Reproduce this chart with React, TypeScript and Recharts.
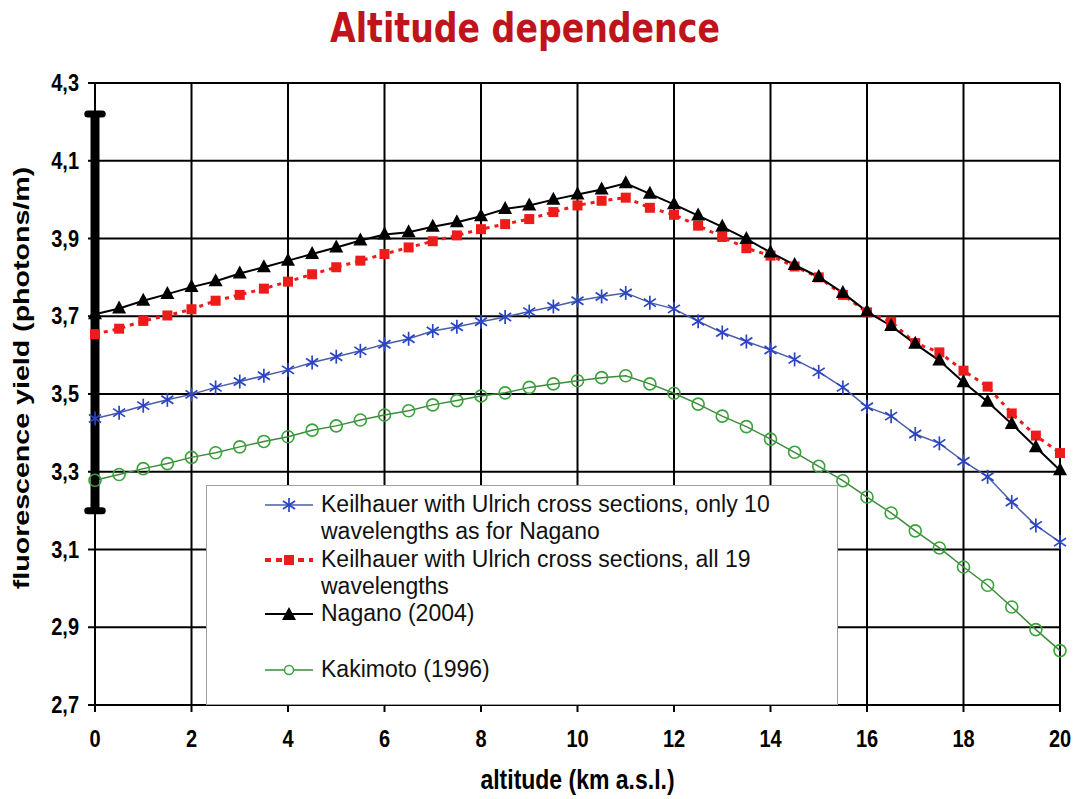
import {
  LineChart,
  Line,
  XAxis,
  YAxis,
  CartesianGrid,
  ReferenceLine,
  Legend,
  Label,
} from "recharts";

const altitude = [
  0, 0.5, 1, 1.5, 2, 2.5, 3, 3.5, 4, 4.5, 5, 5.5, 6, 6.5, 7, 7.5, 8, 8.5, 9, 9.5, 10,
  10.5, 11, 11.5, 12, 12.5, 13, 13.5, 14, 14.5, 15, 15.5, 16, 16.5, 17, 17.5, 18, 18.5,
  19, 19.5, 20,
];

// Keilhauer with Ulrich cross sections, only 10 wavelengths
const keilhauer10 = [
  3.437, 3.452, 3.47, 3.485, 3.499, 3.517, 3.532, 3.547, 3.562, 3.581, 3.596, 3.611, 3.628,
  3.642, 3.662, 3.673, 3.686, 3.698, 3.712, 3.725, 3.74, 3.751, 3.76, 3.735, 3.719, 3.687,
  3.658, 3.635, 3.613, 3.589, 3.557, 3.517, 3.467, 3.443, 3.397, 3.373, 3.327, 3.287, 3.222,
  3.162, 3.119,
];

// Keilhauer with Ulrich cross sections, all 19 wavelengths
const keilhauer19 = [
  3.654, 3.668, 3.688, 3.702, 3.718, 3.74, 3.755, 3.771, 3.789, 3.808, 3.826, 3.843, 3.86,
  3.877, 3.893, 3.908, 3.924, 3.937, 3.95, 3.968, 3.985, 3.997, 4.005, 3.979, 3.961, 3.933,
  3.904, 3.875, 3.856, 3.828, 3.8, 3.755, 3.71, 3.686, 3.631, 3.607, 3.56, 3.519, 3.45,
  3.393, 3.348,
];

const nagano = [
  3.705, 3.72, 3.74, 3.757, 3.775, 3.79, 3.81, 3.826, 3.843, 3.86, 3.877, 3.895, 3.91,
  3.916, 3.93, 3.942, 3.957, 3.976, 3.985, 4.0, 4.013, 4.026, 4.042, 4.015, 3.988, 3.959,
  3.93, 3.899, 3.864, 3.832, 3.801, 3.76, 3.712, 3.675, 3.629, 3.586, 3.53, 3.48, 3.423,
  3.363, 3.304,
];

const kakimoto = [
  3.278, 3.293, 3.308, 3.321, 3.337, 3.349, 3.364, 3.378, 3.39, 3.407, 3.418, 3.433, 3.446,
  3.457, 3.472, 3.483, 3.495, 3.503, 3.517, 3.526, 3.534, 3.542, 3.547, 3.526, 3.502, 3.474,
  3.443, 3.416, 3.384, 3.35, 3.314, 3.277, 3.235, 3.194, 3.148, 3.104, 3.055, 3.008, 2.952,
  2.894, 2.84,
];

const xTicks = [0, 2, 4, 6, 8, 10, 12, 14, 16, 18, 20];
const yTicks = [2.7, 2.9, 3.1, 3.3, 3.5, 3.7, 3.9, 4.1, 4.3];

// systematic uncertainty bar drawn at altitude 0
const errorBarLow = 3.2;
const errorBarHigh = 4.22;

const data = altitude.map((a, i) => ({
  altitude: a,
  k10: keilhauer10[i],
  k19: keilhauer19[i],
  nagano: nagano[i],
  kakimoto: kakimoto[i],
}));

const BLUE = "#2a44c4";
const BLUE_LINE = "#4a5ea8";
const RED = "#ee1b1b";
const GREEN = "#3aa23a";
const GREEN_LINE = "#3d8a3d";
const FONT = "'Liberation Sans', Arial, sans-serif";
// the slide is stretched vertically, so text is drawn a bit taller than wide
const STRETCH = 1.22;

const StarDot = ({ cx, cy }: any) => {
  if (cx == null || cy == null) return null;
  return (
    <g stroke={BLUE} strokeWidth={1.7}>
      <line x1={cx} y1={cy - 7} x2={cx} y2={cy + 7} />
      <line x1={cx - 6} y1={cy - 4} x2={cx + 6} y2={cy + 4} />
      <line x1={cx - 6} y1={cy + 4} x2={cx + 6} y2={cy - 4} />
    </g>
  );
};

const SquareDot = ({ cx, cy }: any) => {
  if (cx == null || cy == null) return null;
  return <rect x={cx - 5} y={cy - 5} width={10} height={10} fill={RED} />;
};

const TriangleDot = ({ cx, cy }: any) => {
  if (cx == null || cy == null) return null;
  return (
    <polygon
      points={`${cx},${cy - 8} ${cx - 7},${cy + 5} ${cx + 7},${cy + 5}`}
      fill="#000"
    />
  );
};

const CircleDot = ({ cx, cy }: any) => {
  if (cx == null || cy == null) return null;
  return <circle cx={cx} cy={cy} r={6} fill="none" stroke={GREEN} strokeWidth={1.6} />;
};

const XTick = ({ x, y, payload }: any) => (
  <text
    transform={`translate(${x},${y + 8}) scale(1,${STRETCH})`}
    textAnchor="middle"
    dominantBaseline="central"
    fontFamily={FONT}
    fontWeight={700}
    fontSize={20}
    fill="#000"
  >
    {payload.value}
  </text>
);

const YTick = ({ x, y, payload }: any) => (
  <text
    transform={`translate(${x},${y}) scale(1,${STRETCH})`}
    textAnchor="end"
    dominantBaseline="central"
    fontFamily={FONT}
    fontWeight={700}
    fontSize={20}
    fill="#000"
  >
    {Number(payload.value).toFixed(1).replace(".", ",")}
  </text>
);

const XTitle = ({ viewBox }: any) => {
  const cx = viewBox.x + viewBox.width / 2;
  return (
    <text
      transform={`translate(${cx},${viewBox.y + 74}) scale(1,${STRETCH})`}
      textAnchor="middle"
      dominantBaseline="central"
      fontFamily={FONT}
      fontWeight={700}
      fontSize={23}
      fill="#000"
    >
      altitude (km a.s.l.)
    </text>
  );
};

const YTitle = ({ viewBox }: any) => {
  const cy = viewBox.y + viewBox.height / 2 - 16;
  return (
    <text
      transform={`translate(${viewBox.x + 21},${cy}) rotate(-90) scale(${STRETCH + 0.08},1)`}
      textAnchor="middle"
      dominantBaseline="central"
      fontFamily={FONT}
      fontWeight={700}
      fontSize={22}
      fill="#000"
    >
      fluorescence yield (photons/m)
    </text>
  );
};

const legendEntries = [
  {
    kind: "star",
    lines: ["Keilhauer with Ulrich cross sections, only 10", "wavelengths as for Nagano"],
    top: 5,
  },
  {
    kind: "square",
    lines: ["Keilhauer with Ulrich cross sections, all 19", "wavelengths"],
    top: 60,
  },
  { kind: "triangle", lines: ["Nagano (2004)"], top: 114 },
  { kind: "circle", lines: ["Kakimoto (1996)"], top: 170 },
];

const Swatch = ({ kind }: { kind: string }) => {
  const w = 48;
  const c = 24;
  const y = 13;
  if (kind === "star")
    return (
      <svg width={w} height={26}>
        <line x1={0} y1={y} x2={w} y2={y} stroke={BLUE_LINE} strokeWidth={1.5} />
        <StarDot cx={c} cy={y} />
      </svg>
    );
  if (kind === "square")
    return (
      <svg width={w} height={26}>
        <line x1={0} y1={y} x2={w} y2={y} stroke={RED} strokeWidth={4} strokeDasharray="6 5" />
        <SquareDot cx={c} cy={y} />
      </svg>
    );
  if (kind === "triangle")
    return (
      <svg width={w} height={26}>
        <line x1={0} y1={y} x2={w} y2={y} stroke="#000" strokeWidth={2} />
        <TriangleDot cx={c} cy={y + 1} />
      </svg>
    );
  return (
    <svg width={w} height={26}>
      <line x1={0} y1={y} x2={w} y2={y} stroke={GREEN_LINE} strokeWidth={1.5} />
      <circle cx={c} cy={y} r={4.5} fill="#fff" stroke={GREEN} strokeWidth={1.5} />
    </svg>
  );
};

const LegendBox = () => (
  <div
    style={{
      position: "relative",
      width: 632,
      height: 220,
      background: "#fff",
      border: "1px solid #a0a0a0",
      boxSizing: "border-box",
      fontFamily: FONT,
      fontSize: 23,
      color: "#111",
    }}
  >
    {legendEntries.map((e) => (
      <div key={e.kind} style={{ position: "absolute", left: 58, top: e.top, display: "flex" }}>
        <div style={{ width: 56, height: 27, display: "flex", alignItems: "center" }}>
          <Swatch kind={e.kind} />
        </div>
        <div style={{ lineHeight: "27px", whiteSpace: "nowrap" }}>
          {e.lines.map((l) => (
            <div key={l}>{l}</div>
          ))}
        </div>
      </div>
    ))}
  </div>
);

export default function App() {
  return (
    <div style={{ position: "absolute", left: 0, top: 0, width: 1077, height: 799, background: "#fff" }}>
      <style>{`body{margin:0}`}</style>
      <div style={{ position: "absolute", left: 0, top: 5, width: 1050, textAlign: "center" }}>
        <span
          style={{
            display: "inline-block",
            fontFamily: "'Comic Sans MS', 'DejaVu Sans', sans-serif",
            fontWeight: 700,
            fontSize: 40,
            color: "#c0141c",
            transform: "scaleX(0.83)",
          }}
        >
          Altitude dependence
        </span>
      </div>
      <LineChart
        width={1077}
        height={799}
        data={data}
        margin={{ top: 83, right: 17, left: 0, bottom: 0 }}
      >
        <CartesianGrid stroke="#000" strokeWidth={2} />
        <XAxis
          dataKey="altitude"
          type="number"
          domain={[0, 20]}
          ticks={xTicks}
          height={94}
          tickSize={7}
          tickMargin={19}
          tick={<XTick />}
          axisLine={{ stroke: "#000", strokeWidth: 2 }}
          tickLine={{ stroke: "#000", strokeWidth: 2 }}
        >
          <Label content={<XTitle />} />
        </XAxis>
        <YAxis
          type="number"
          domain={[2.7, 4.3]}
          ticks={yTicks}
          width={95}
          tickSize={7}
          tickMargin={9}
          tick={<YTick />}
          axisLine={{ stroke: "#000", strokeWidth: 2 }}
          tickLine={{ stroke: "#000", strokeWidth: 2 }}
        >
          <Label content={<YTitle />} />
        </YAxis>
        <Line
          dataKey="k10"
          stroke={BLUE_LINE}
          strokeWidth={1.5}
          dot={<StarDot />}
          activeDot={false}
          isAnimationActive={false}
        />
        <Line
          dataKey="k19"
          stroke={RED}
          strokeWidth={3}
          strokeDasharray="4 5"
          dot={<SquareDot />}
          activeDot={false}
          isAnimationActive={false}
        />
        <Line
          dataKey="nagano"
          stroke="#000"
          strokeWidth={2}
          dot={<TriangleDot />}
          activeDot={false}
          isAnimationActive={false}
        />
        <Line
          dataKey="kakimoto"
          stroke={GREEN_LINE}
          strokeWidth={1.5}
          dot={<CircleDot />}
          activeDot={false}
          isAnimationActive={false}
        />
        <ReferenceLine
          segment={[
            { x: 0, y: errorBarLow },
            { x: 0, y: errorBarHigh },
          ]}
          stroke="#000"
          strokeWidth={9}
          ifOverflow="visible"
        />
        <ReferenceLine
          segment={[
            { x: -0.15, y: errorBarHigh },
            { x: 0.15, y: errorBarHigh },
          ]}
          stroke="#000"
          strokeWidth={7}
          strokeLinecap="round"
          ifOverflow="visible"
        />
        <ReferenceLine
          segment={[
            { x: -0.15, y: errorBarLow },
            { x: 0.15, y: errorBarLow },
          ]}
          stroke="#000"
          strokeWidth={7}
          strokeLinecap="round"
          ifOverflow="visible"
        />
        <Legend
          layout="vertical"
          align="center"
          verticalAlign="middle"
          content={() => <LegendBox />}
          wrapperStyle={{ left: 206, top: 485, width: 632, height: 220 }}
        />
      </LineChart>
    </div>
  );
}
